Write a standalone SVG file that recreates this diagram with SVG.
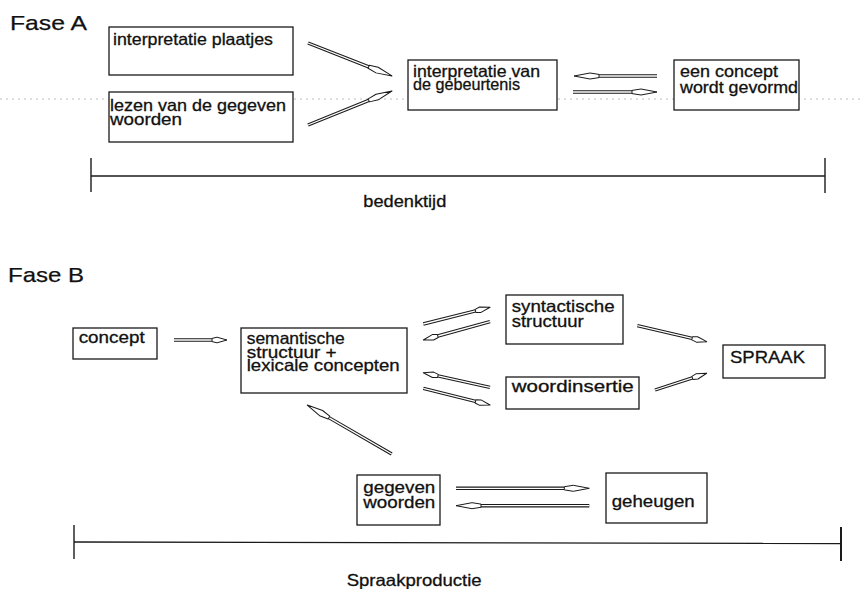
<svg xmlns="http://www.w3.org/2000/svg" width="862" height="589" viewBox="0 0 862 589">
<style>
  .bg{fill:#ffffff}
  .box{fill:#ffffff;stroke:#1a1a1a;stroke-width:1.3}
  .t{font-family:"Liberation Sans",Arial,Helvetica,sans-serif;font-size:16.5px;fill:#111;stroke:#111;stroke-width:0.3}
  .h{font-family:"Liberation Sans",Arial,Helvetica,sans-serif;font-size:21px;fill:#111;stroke:#111;stroke-width:0.25}
  .sh{fill:none;stroke:#1a1a1a;stroke-width:3.4;stroke-linecap:butt}
  .si{fill:none;stroke:#ffffff;stroke-width:1.3;stroke-linecap:butt}
  .sl{marker-end:url(#headL)}
  .ss{marker-end:url(#headS)}
  .tl{fill:none;stroke:#1a1a1a;stroke-width:1.4}
  .dot{fill:none;stroke:#bdbdbd;stroke-width:1;stroke-dasharray:2 4}
</style>
<defs>
  <marker id="headL" markerUnits="userSpaceOnUse" viewBox="-27 -4 28 8" refX="-25" refY="0" markerWidth="28" markerHeight="8" orient="auto">
    <path d="M0,0 L-16,-3 L-25,-1.6 L-25,1.6 L-16,3 Z" fill="#fff" stroke="#1a1a1a" stroke-width="1" stroke-linejoin="round"/>
  </marker>
  <marker id="headS" markerUnits="userSpaceOnUse" viewBox="-17 -4 18 8" refX="-15" refY="0" markerWidth="18" markerHeight="8" orient="auto">
    <path d="M0,0 L-10,-2.8 L-15,-1.6 L-15,1.6 L-10,2.8 Z" fill="#fff" stroke="#1a1a1a" stroke-width="1" stroke-linejoin="round"/>
  </marker>
</defs>
<rect class="bg" x="0" y="0" width="862" height="589"/>
<line class="dot" x1="0" y1="99" x2="862" y2="99"/>

<text class="h" x="10" y="30" textLength="77" lengthAdjust="spacingAndGlyphs">Fase A</text>
<text class="h" x="8" y="282" textLength="76" lengthAdjust="spacingAndGlyphs">Fase B</text>

<g id="n-plaatjes">
  <rect class="box" x="109" y="27" width="184" height="48"/>
  <text class="t" x="113" y="45" textLength="160" lengthAdjust="spacingAndGlyphs">interpretatie plaatjes</text>
</g>
<g id="n-lezen">
  <rect class="box" x="109" y="92" width="184" height="50"/>
  <text class="t" x="110" y="110.5" textLength="176" lengthAdjust="spacingAndGlyphs">lezen van de gegeven</text>
  <text class="t" x="110" y="124.5" textLength="72" lengthAdjust="spacingAndGlyphs">woorden</text>
</g>
<g id="n-gebeurtenis">
  <rect class="box" x="408" y="60" width="149" height="50"/>
  <text class="t" x="413" y="76.5" textLength="127" lengthAdjust="spacingAndGlyphs">interpretatie van</text>
  <text class="t" x="413" y="90" textLength="107" lengthAdjust="spacingAndGlyphs">de gebeurtenis</text>
</g>
<g id="n-concept-a">
  <rect class="box" x="674" y="60" width="125" height="50"/>
  <text class="t" x="680" y="77.3" textLength="98" lengthAdjust="spacingAndGlyphs">een concept</text>
  <text class="t" x="680" y="92.7" textLength="118" lengthAdjust="spacingAndGlyphs">wordt gevormd</text>
</g>

<g id="timeline-a">
  <line class="tl" x1="91" y1="158" x2="91" y2="192"/>
  <line class="tl" x1="91" y1="176" x2="825" y2="176"/>
  <line class="tl" x1="825" y1="158" x2="825" y2="193"/>
  <text class="t" x="363.3" y="206.7" textLength="83" lengthAdjust="spacingAndGlyphs">bedenktijd</text>
</g>

<g id="n-concept">
  <rect class="box" x="73" y="328" width="84" height="31"/>
  <text class="t" x="78.7" y="343.3" textLength="66" lengthAdjust="spacingAndGlyphs">concept</text>
</g>
<g id="n-semantisch">
  <rect class="box" x="241" y="328" width="166" height="65"/>
  <text class="t" x="246.7" y="344" textLength="98" lengthAdjust="spacingAndGlyphs">semantische</text>
  <text class="t" x="246.7" y="357.5" textLength="90" lengthAdjust="spacingAndGlyphs">structuur +</text>
  <text class="t" x="246.7" y="371" textLength="153" lengthAdjust="spacingAndGlyphs">lexicale concepten</text>
</g>
<g id="n-syntactisch">
  <rect class="box" x="506" y="295" width="117" height="49"/>
  <text class="t" x="511.7" y="312.3" textLength="103" lengthAdjust="spacingAndGlyphs">syntactische</text>
  <text class="t" x="511.7" y="326.7" textLength="72" lengthAdjust="spacingAndGlyphs">structuur</text>
</g>
<g id="n-woordinsertie">
  <rect class="box" x="506" y="377" width="133" height="32"/>
  <text class="t" x="511.7" y="391.7" textLength="122" lengthAdjust="spacingAndGlyphs">woordinsertie</text>
</g>
<g id="n-spraak">
  <rect class="box" x="723" y="345" width="102" height="33"/>
  <text class="t" x="730" y="362.7" textLength="75" lengthAdjust="spacingAndGlyphs">SPRAAK</text>
</g>
<g id="n-gegeven">
  <rect class="box" x="357" y="475" width="83" height="50"/>
  <text class="t" x="363.3" y="492.7" textLength="72" lengthAdjust="spacingAndGlyphs">gegeven</text>
  <text class="t" x="363.3" y="508.3" textLength="72" lengthAdjust="spacingAndGlyphs">woorden</text>
</g>
<g id="n-geheugen">
  <rect class="box" x="606" y="473" width="101" height="50"/>
  <text class="t" x="611.7" y="506.7" textLength="83" lengthAdjust="spacingAndGlyphs">geheugen</text>
</g>

<g id="timeline-b">
  <line class="tl" x1="74" y1="525" x2="74" y2="559"/>
  <line class="tl" x1="74" y1="542" x2="841" y2="543.5"/>
  <line class="tl" x1="841" y1="527" x2="841" y2="561" style="stroke-width:2"/>
  <text class="t" x="346.7" y="586" textLength="135" lengthAdjust="spacingAndGlyphs">Spraakproductie</text>
</g>

<g id="connectors">
  <path class="sh" d="M308,43 L368.7,66.8"/><path class="si sl" d="M308,43 L368.7,66.8"/>
  <path class="sh" d="M308,125 L368.8,100.4"/><path class="si sl" d="M308,125 L368.8,100.4"/>
  <path class="sh" d="M657,76 L599,76"/><path class="si sl" d="M657,76 L599,76"/>
  <path class="sh" d="M573,92 L632,92"/><path class="si sl" d="M573,92 L632,92"/>
  <path class="sh" d="M174,340 L212,340"/><path class="si ss" d="M174,340 L212,340"/>
  <path class="sh" d="M423.3,324 L475.5,310.9"/><path class="si ss" d="M423.3,324 L475.5,310.9"/>
  <path class="sh" d="M490,321.7 L437.8,336"/><path class="si ss" d="M490,321.7 L437.8,336"/>
  <path class="sh" d="M490,387.3 L437.9,375.9"/><path class="si ss" d="M490,387.3 L437.9,375.9"/>
  <path class="sh" d="M423.3,388.3 L475.5,401.4"/><path class="si ss" d="M423.3,388.3 L475.5,401.4"/>
  <path class="sh" d="M637.3,325.7 L692.1,338.3"/><path class="si ss" d="M637.3,325.7 L692.1,338.3"/>
  <path class="sh" d="M655,390 L692.4,377.9"/><path class="si ss" d="M655,390 L692.4,377.9"/>
  <path class="sh" d="M391.7,454 L328.9,417.6"/><path class="si sl" d="M391.7,454 L328.9,417.6"/>
  <path class="sh" d="M456,488.3 L564.3,488.3"/><path class="si sl" d="M456,488.3 L564.3,488.3"/>
  <path class="sh" d="M589.3,505.7 L481,505.7"/><path class="si sl" d="M589.3,505.7 L481,505.7"/>
</g>
</svg>
